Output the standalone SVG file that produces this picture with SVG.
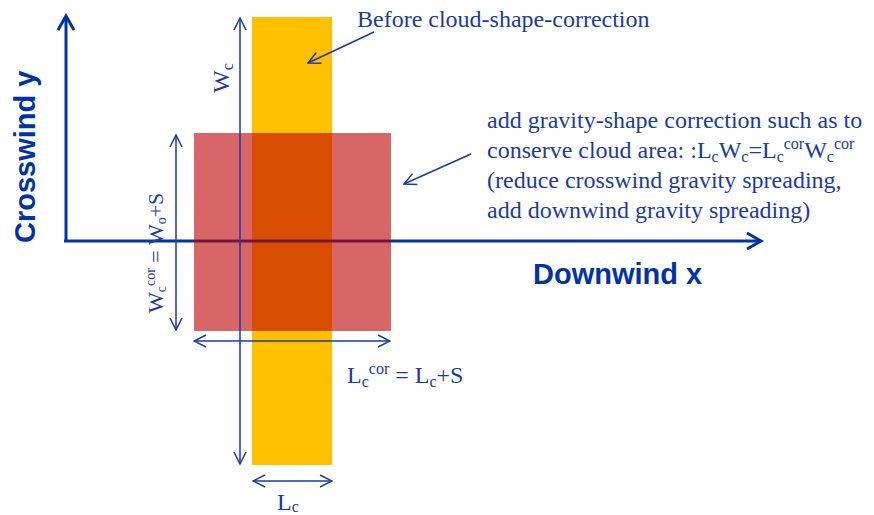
<svg xmlns="http://www.w3.org/2000/svg" width="874" height="515" viewBox="0 0 874 515">
<style>
.serif{font-family:"Liberation Serif","Times New Roman",serif;font-size:24px;fill:#1a3aaa}
.bold{font-family:"Liberation Sans",Arial,sans-serif;font-weight:bold;fill:#0033aa}
.s{font-size:16px}
.dim{stroke:#1a3aaa;stroke-width:1.5;fill:none}
.axis{stroke:#0033aa;stroke-width:3;fill:none}
</style>
<defs>
<marker id="v" markerUnits="userSpaceOnUse" markerWidth="14" markerHeight="14" viewBox="0 0 14 14" refX="13" refY="7" orient="auto-start-reverse">
<path d="M1,1 L13,7 L1,13" fill="none" stroke="#1a3aaa" stroke-width="1.5"/>
</marker>
<marker id="va" markerUnits="userSpaceOnUse" markerWidth="20" markerHeight="20" viewBox="0 0 20 20" refX="17" refY="10" orient="auto-start-reverse">
<path d="M3,2 L17,10 L3,18" fill="none" stroke="#0033aa" stroke-width="3"/>
</marker>
</defs>
<g id="cloud-before"><rect x="252" y="17" width="80" height="448" fill="#ffc000"/></g>
<g id="axes">
<path class="axis" d="M66,241 L66,16" marker-end="url(#va)"/>
<path class="axis" d="M64,241 L761,241" marker-end="url(#va)"/>
</g>
<g id="cloud-after"><rect x="194" y="133" width="197" height="198" fill="#c00000" fill-opacity="0.6"/></g>
<g id="connectors">
<path class="dim" d="M240,18 L240,464" marker-start="url(#v)" marker-end="url(#v)"/>
<path class="dim" d="M176,135 L176,330" marker-start="url(#v)" marker-end="url(#v)"/>
<path class="dim" d="M194,341 L390,341" marker-start="url(#v)" marker-end="url(#v)"/>
<path class="dim" d="M253,481 L332,481" marker-start="url(#v)" marker-end="url(#v)"/>
<path class="dim" d="M374,32 L308,63" marker-end="url(#v)"/>
<path class="dim" d="M471,154 L404,184" marker-end="url(#v)"/>
</g>
<g id="labels">
<text class="bold" font-size="29" transform="translate(35,243) rotate(-90)">Crosswind y</text>
<text class="bold" font-size="29" x="533" y="284">Downwind x</text>
<text class="serif" x="357" y="27">Before cloud-shape-correction</text>
<text class="serif" x="487" y="128">add gravity-shape correction such as to</text>
<text class="serif" x="487" y="158">conserve cloud area: :L<tspan class="s" dy="4">c</tspan><tspan dy="-4">W</tspan><tspan class="s" dy="4">c</tspan><tspan dy="-4">=L</tspan><tspan class="s" dy="4">c</tspan><tspan class="s" dy="-13">cor</tspan><tspan dy="9">W</tspan><tspan class="s" dy="4">c</tspan><tspan class="s" dy="-13">cor</tspan></text>
<text class="serif" x="487" y="188">(reduce crosswind gravity spreading,</text>
<text class="serif" x="487" y="218">add downwind gravity spreading)</text>
<text class="serif" transform="translate(229,93) rotate(-90)">W<tspan class="s" dy="4">c</tspan></text>
<text class="serif" style="font-size:22px" transform="translate(163,313) rotate(-90)">W<tspan style="font-size:14px" dy="3">c</tspan><tspan style="font-size:14px" dy="-11">cor</tspan><tspan dy="8"> = W</tspan><tspan style="font-size:14px" dy="3">o</tspan><tspan dy="-3">+S</tspan></text>
<text class="serif" x="347" y="383">L<tspan class="s" dy="4">c</tspan><tspan class="s" dy="-13">cor</tspan><tspan dy="9"> = L</tspan><tspan class="s" dy="4">c</tspan><tspan dy="-4">+S</tspan></text>
<text class="serif" x="277" y="510">L<tspan class="s" dy="2">c</tspan></text>
</g>
</svg>
